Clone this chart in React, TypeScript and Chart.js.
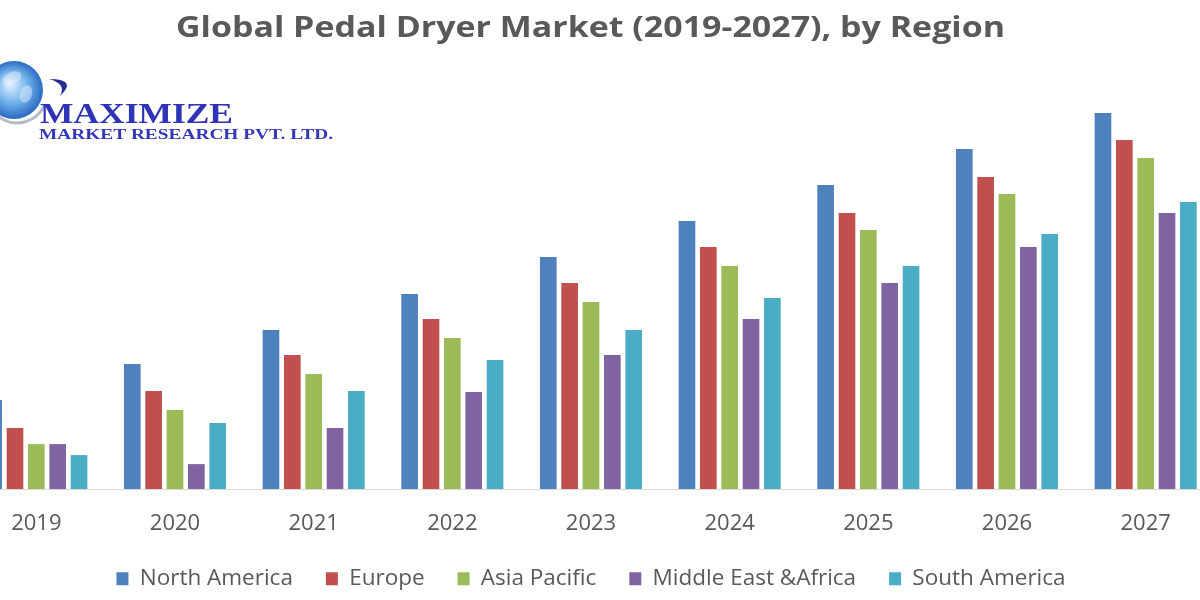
import React, { useEffect, useRef } from "react";
import { Chart, registerables } from "chart.js";

Chart.register(...registerables);

const categories = ["2019", "2020", "2021", "2022", "2023", "2024", "2025", "2026", "2027"];
const northAmerica = [89, 125, 159, 195, 232, 268, 304, 340, 376];
const europe = [61, 98, 134, 170, 206, 242, 276, 312, 349];
const asiaPacific = [45, 79, 115, 151, 187, 223, 259, 295, 331];
const middleEastAfrica = [45, 25, 61, 97, 134, 170, 206, 242, 276];
const southAmerica = [34, 66, 98, 129, 159, 191, 223, 255, 287];
const seriesNames = ["North America", "Europe", "Asia Pacific", "Middle East &Africa", "South America"];
const seriesValues = [northAmerica, europe, asiaPacific, middleEastAfrica, southAmerica];
const seriesColors = ["#4f81bd", "#c0504d", "#9bbb59", "#8064a2", "#4bacc6"];
const titleText = "Global Pedal Dryer Market (2019-2027), by Region";
const logoTitle = "MAXIMIZE";
const logoSub = "MARKET RESEARCH PVT. LTD.";

const OFFSET_X = 33;
const AXIS_SHRINK = 15;

function fitText(ctx: CanvasRenderingContext2D, text: string, x: number, y: number, width: number, font: string, color: string) {
  ctx.save();
  ctx.font = font;
  const w = ctx.measureText(text).width;
  ctx.translate(x, y);
  ctx.scale(width / w, 1);
  ctx.fillStyle = color;
  ctx.textBaseline = "alphabetic";
  ctx.textAlign = "left";
  ctx.fillText(text, 0, 0);
  ctx.restore();
}

const axisRestorePlugin = {
  id: "axisRestore",
  afterLayout(chart: any) {
    const s = chart.scales.x;
    if (s) {
      s.bottom += AXIS_SHRINK;
      s.height += AXIS_SHRINK;
    }
  },
};

const logoPlugin = {
  id: "logo",
  afterDraw(chart: any) {
    const ctx: CanvasRenderingContext2D = chart.ctx;
    const ox = OFFSET_X;
    ctx.save();
    // title
    fitText(ctx, titleText, ox + 176, 37, 829, "bold 29px 'Open Sans'", "#595959");
    const cx = ox + 14;
    const cy = 90;
    const r = 29;
    // shadow arc
    ctx.beginPath();
    ctx.arc(cx + 3, cy + 3, r + 1, 0.15 * Math.PI, 0.85 * Math.PI);
    ctx.strokeStyle = "rgba(110,120,150,0.5)";
    ctx.lineWidth = 3;
    ctx.stroke();
    const g = ctx.createRadialGradient(cx - 4, cy - 6, 2, cx, cy, r);
    g.addColorStop(0, "#d8ecfd");
    g.addColorStop(0.5, "#74b4ec");
    g.addColorStop(1, "#2a6ac2");
    ctx.beginPath();
    ctx.arc(cx, cy, r, 0, Math.PI * 2);
    ctx.fillStyle = g;
    ctx.fill();
    // continents
    ctx.fillStyle = "rgba(235,245,255,0.45)";
    ctx.beginPath();
    ctx.ellipse(cx - 2, cy - 12, 10, 6, -0.4, 0, Math.PI * 2);
    ctx.fill();
    ctx.beginPath();
    ctx.ellipse(cx + 12, cy + 4, 6, 9, 0.3, 0, Math.PI * 2);
    ctx.fill();
    // swoosh
    ctx.beginPath();
    ctx.moveTo(ox + 49, 79);
    ctx.quadraticCurveTo(ox + 78, 79, ox + 60, 96);
    ctx.quadraticCurveTo(ox + 67, 84, ox + 49, 79);
    ctx.fillStyle = "#23308f";
    ctx.fill();
    fitText(ctx, logoTitle, ox + 40, 123, 193, "bold 30px 'Liberation Serif'", "#2f33b5");
    fitText(ctx, logoSub, ox + 39, 139, 294, "bold 15px 'Liberation Serif'", "#3438b8");
    ctx.restore();
  },
};

export default function App() {
  const canvasRef = useRef<HTMLCanvasElement | null>(null);

  useEffect(() => {
    if (!canvasRef.current) return;
    const chart = new Chart(canvasRef.current, {
      type: "bar",
      data: {
        labels: categories,
        datasets: seriesNames.map((name, i) => ({
          label: name,
          data: seriesValues[i],
          backgroundColor: seriesColors[i],
          borderWidth: 0,
          categoryPercentage: 0.77,
          barPercentage: 0.78,
        })),
      },
      options: {
        responsive: false,
        animation: false,
        layout: { padding: { top: 54, left: 0, right: 0, bottom: 0 } },
        plugins: {
          title: { display: false },
          legend: {
            position: "bottom",
            labels: {
              boxWidth: 12,
              boxHeight: 13,
              padding: 33,
              color: "#595959",
              font: { family: "'Open Sans'", size: 22.5 },
            },
          },
          tooltip: { enabled: false },
        },
        scales: {
          x: {
            grid: { display: false },
            border: { color: "#d9d9d9", width: 1 },
            ticks: {
              color: "#595959",
              padding: 13,
              font: { family: "'Open Sans'", size: 22 },
            },
            afterFit(scale: any) {
              scale.height = scale.height - AXIS_SHRINK;
            },
          },
          y: { display: false, min: 0, max: 435 },
        },
      },
      plugins: [logoPlugin, axisRestorePlugin],
    } as any);
    return () => chart.destroy();
  }, []);

  return (
    <div style={{ position: "fixed", left: 0, top: 0, width: 1200, height: 600, overflow: "hidden", background: "#fff" }}>
      <canvas
        ref={canvasRef}
        width={1248}
        height={600}
        style={{ position: "absolute", left: -OFFSET_X, top: 0, width: 1248, height: 600 }}
      />
    </div>
  );
}
